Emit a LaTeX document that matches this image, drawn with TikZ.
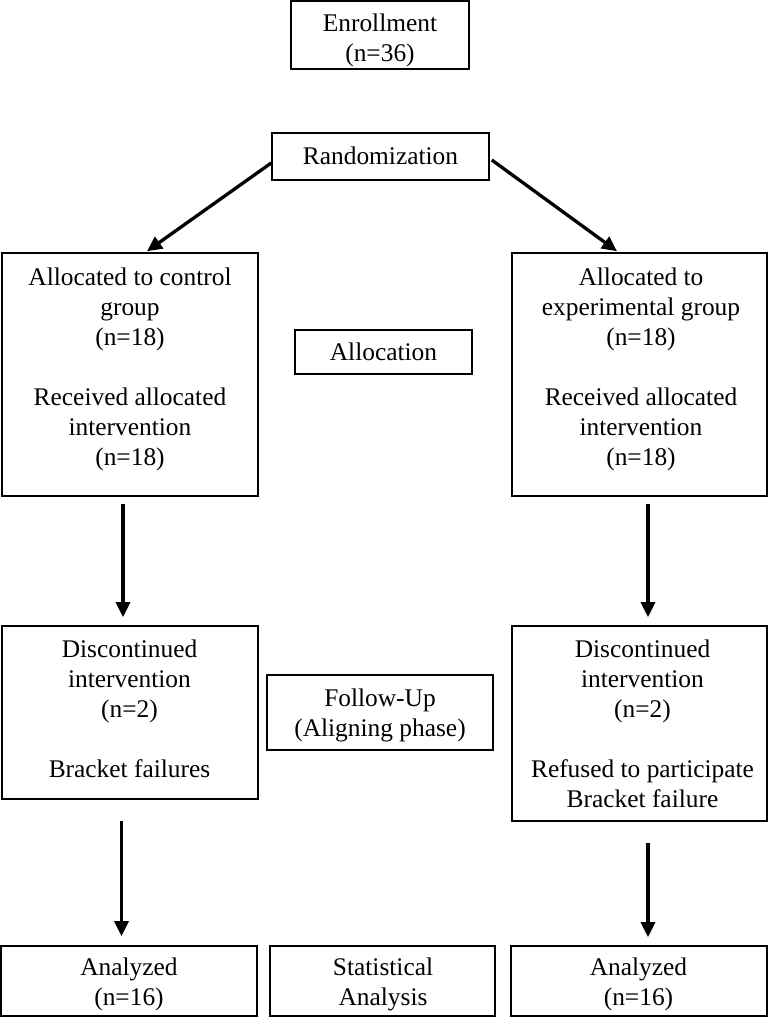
\documentclass[tikz,border=0pt]{standalone}
\usepackage{fontspec}
\setmainfont{Liberation Serif}
\usetikzlibrary{arrows.meta}
\begin{document}
\begin{tikzpicture}[x=1pt,y=-1pt,
  box/.style={draw=black,line width=1.6pt,inner sep=0pt},
  txt/.style={inner sep=0pt,align=center,anchor=base,
    font=\fontsize{25.4pt}{30pt}\selectfont},
  arr/.style={line width=3.3pt,-{Triangle[width=14pt,length=15pt]}}]
\useasboundingbox (0,0) rectangle (769,1018);
% boxes
\node[box,minimum width=178pt,minimum height=68pt] (enroll) at (380,35) {};
\node[box,minimum width=217pt,minimum height=47pt] (rand) at (380.5,156.5) {};
\node[box,minimum width=256pt,minimum height=243pt] (ctrl) at (130,374.5) {};
\node[box,minimum width=255pt,minimum height=243pt] (expt) at (639.5,374.5) {};
\node[box,minimum width=177pt,minimum height=44pt] (alloc) at (383.5,352) {};
\node[box,minimum width=256pt,minimum height=173pt] (discL) at (130,712.5) {};
\node[box,minimum width=226pt,minimum height=75pt] (follow) at (380,712.5) {};
\node[box,minimum width=255pt,minimum height=195pt] (discR) at (639.5,723.5) {};
\node[box,minimum width=256pt,minimum height=70pt] (anaL) at (129,981) {};
\node[box,minimum width=225pt,minimum height=70pt] (stat) at (382.5,981) {};
\node[box,minimum width=256pt,minimum height=70pt] (anaR) at (639,981) {};
% texts (anchor base = baseline of last line)
\node[txt] (enrollT) at (380,61) {Enrollment\\(n=36)};
\node[txt] (randT) at (380.5,164) {Randomization};
\node[txt] (allocT) at (383.5,360) {Allocation};
\node[txt] (ctrlT) at (130,465) {Allocated to control\\group\\(n=18)\\[30pt]Received allocated\\intervention\\(n=18)};
\node[txt] (exptT) at (641,465) {Allocated to\\experimental group\\(n=18)\\[30pt]Received allocated\\intervention\\(n=18)};
\node[txt] (discLT) at (129.5,777) {Discontinued\\intervention\\(n=2)\\[30pt]Bracket failures};
\node[txt] (followT) at (380,736) {Follow-Up\\(Aligning phase)};
\node[txt] (discRT) at (642.5,807) {Discontinued\\intervention\\(n=2)\\[30pt]Refused to participate\\Bracket failure};
\node[txt] (anaLT) at (129,1005) {Analyzed\\(n=16)};
\node[txt] (statT) at (383,1005) {Statistical\\Analysis};
\node[txt] (anaRT) at (638.5,1005) {Analyzed\\(n=16)};
% arrows (shifts are in canvas units: positive yshift goes up)
\draw[arr] ([yshift=-6.5pt]rand.west) -- ([xshift=17pt,yshift=1pt]ctrl.north);
\draw[arr] ([xshift=2pt,yshift=-3.5pt]rand.east) -- ([xshift=-22.5pt,yshift=1pt]expt.north);
\draw[arr] ([xshift=-7pt,yshift=-7pt]ctrl.south) -- ([xshift=-7pt,yshift=8pt]discL.north);
\draw[arr] ([xshift=8.5pt,yshift=-7pt]expt.south) -- ([xshift=8.5pt,yshift=8pt]discR.north);
\draw[arr] ([xshift=-8.5pt,yshift=-21pt]discL.south) -- ([xshift=-7.5pt,yshift=9pt]anaL.north);
\draw[arr] ([xshift=8.5pt,yshift=-21pt]discR.south) -- ([xshift=9pt,yshift=8pt]anaR.north);
\end{tikzpicture}
\end{document}
